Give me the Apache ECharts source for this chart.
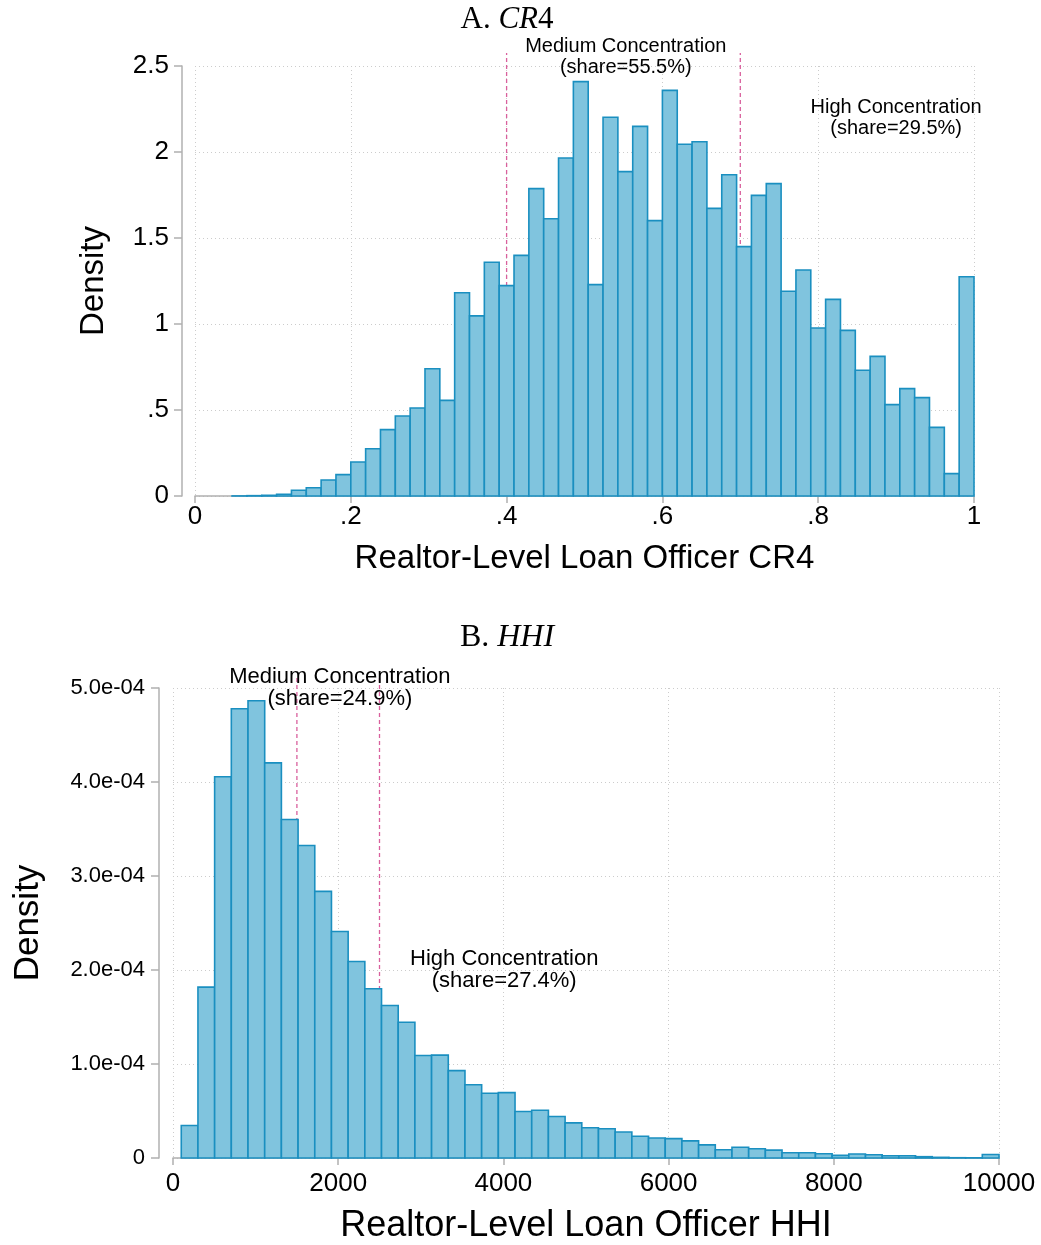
<!DOCTYPE html>
<html>
<head>
<meta charset="utf-8">
<script src="https://cdn.jsdelivr.net/npm/echarts@6/dist/echarts.min.js"></script>
<style>
  html, body { margin: 0; padding: 0; background: #fff; }
  #chart { width: 1041px; height: 1245px; }
</style>
</head>
<body>
<div id="chart"></div>
<script>
// ---- Panel A: realtor-level loan officer CR4 (50 equal-width bins, 1/21 .. 1) ----
const cr4Density = [
  0.0005, 0.002, 0.004, 0.010, 0.033, 0.048, 0.093, 0.124, 0.198, 0.275,
  0.386, 0.465, 0.512, 0.740, 0.556, 1.182, 1.047, 1.359, 1.223, 1.399,
  1.787, 1.612, 1.965, 2.409, 1.229, 2.202, 1.886, 2.149, 1.601, 2.358,
  2.045, 2.060, 1.672, 1.868, 1.450, 1.748, 1.816, 1.190, 1.314, 0.977,
  1.143, 0.963, 0.731, 0.812, 0.531, 0.624, 0.572, 0.399, 0.130, 1.275
];
const cr4Range = [1 / 21, 1];
const cr4XTicks = ['0', '.2', '.4', '.6', '.8', '1'];
const cr4YTicks = ['0', '.5', '1', '1.5', '2', '2.5'];
const cr4Cutoffs = [0.4, 0.7];
const cr4NoteText = [
  'Medium Concentration\n(share=55.5%)',
  'High Concentration\n(share=29.5%)'
];
const cr4NoteAt = [[0.553, 2.55], [0.9, 2.2]];

// ---- Panel B: realtor-level loan officer HHI (49 equal-width bins, 100 .. 10000) ----
const hhiDensity = [
  3.46e-5, 1.818e-4, 4.056e-4, 4.780e-4, 4.864e-4, 4.203e-4, 3.601e-4, 3.325e-4, 2.836e-4, 2.409e-4,
  2.091e-4, 1.801e-4, 1.622e-4, 1.444e-4, 1.091e-4, 1.094e-4, 9.30e-5, 7.80e-5, 6.89e-5, 6.95e-5,
  4.95e-5, 5.08e-5, 4.41e-5, 3.74e-5, 3.22e-5, 3.11e-5, 2.76e-5, 2.31e-5, 2.13e-5, 2.06e-5,
  1.82e-5, 1.40e-5, 8.7e-6, 1.15e-5, 9.8e-6, 8.4e-6, 5.6e-6, 5.6e-6, 4.5e-6, 2.8e-6,
  4.2e-6, 3.5e-6, 2.4e-6, 2.4e-6, 1.4e-6, 7e-7, 3e-7, 2e-7, 3.8e-6
];
const hhiRange = [100, 10000];
const hhiXTicks = ['0', '2000', '4000', '6000', '8000', '10000'];
const hhiYTicks = ['0', '1.0e-04', '2.0e-04', '3.0e-04', '4.0e-04', '5.0e-04'];
const hhiCutoffs = [1500, 2500];
const hhiNoteText = [
  'Medium Concentration\n(share=24.9%)',
  'High Concentration\n(share=27.4%)'
];
const hhiNoteAt = [[2020, 5.0e-4], [4010, 2.0e-4]];

// Reference lines run a little above the top of each value axis
const cr4CutoffTop = 2.575;
const hhiCutoffTop = 5.13e-4;

// ---- helpers ----
function toBins(density, range) {
  const w = (range[1] - range[0]) / density.length;
  return density.map((d, i) => [range[0] + i * w, range[0] + (i + 1) * w, d]);
}

const BAR_FILL = '#80c4de';
const BAR_EDGE = '#1a8fc0';
const AXIS_GREY = '#b0b0b0';
const GRID_GREY = '#cccccc';
const CUTOFF_PINK = '#d9609d';

function histItem(params, api) {
  const p0 = api.coord([api.value(0), api.value(2)]);
  const p1 = api.coord([api.value(1), 0]);
  return {
    type: 'rect',
    shape: { x: p0[0], y: p0[1], width: p1[0] - p0[0], height: p1[1] - p0[1] },
    style: { fill: BAR_FILL, stroke: BAR_EDGE, lineWidth: 1.6 }
  };
}

function histSeries(idx, density, range) {
  return {
    type: 'custom',
    xAxisIndex: idx, yAxisIndex: idx,
    renderItem: histItem,
    encode: { x: [0, 1], y: 2 },
    data: toBins(density, range),
    z: 3,
    silent: true
  };
}

function cutoffSeries(idx, cutoffs, top) {
  return cutoffs.map(c => ({
    type: 'line',
    xAxisIndex: idx, yAxisIndex: idx,
    data: [[c, 0], [c, top]],
    showSymbol: false,
    clip: false,
    silent: true,
    z: 1,
    lineStyle: { color: CUTOFF_PINK, width: 1.3, type: [4, 3] }
  }));
}

function noteSeries(idx, at, text, size, lh) {
  return {
    type: 'scatter',
    xAxisIndex: idx, yAxisIndex: idx,
    data: at.map((p, i) => ({ value: p, name: text[i] })),
    symbolSize: 0,
    itemStyle: { color: '#000', opacity: 1 },
    clip: false,
    silent: true,
    z: 5,
    label: {
      show: true, position: 'inside', formatter: '{b}',
      fontFamily: 'Liberation Sans', fontSize: size, lineHeight: lh,
      color: '#000', opacity: 1, align: 'center'
    }
  };
}

const dotted = { show: true, lineStyle: { color: GRID_GREY, width: 1, type: [1, 3] } };

function xAxisCfg(idx, max, interval, ticks, name, labelSize, nameSize, labelMargin, nameGap) {
  return {
    gridIndex: idx, type: 'value', min: 0, max: max, interval: interval,
    axisLine: { show: true, onZero: false, lineStyle: { color: AXIS_GREY, width: 1.5 } },
    axisTick: { show: true, length: 7, lineStyle: { color: AXIS_GREY, width: 1.5 } },
    axisLabel: {
      fontFamily: 'Liberation Sans', fontSize: labelSize, color: '#000', margin: labelMargin,
      formatter: v => ticks[Math.round(v / interval)]
    },
    splitLine: dotted,
    name: name, nameLocation: 'middle', nameGap: nameGap,
    nameTextStyle: { fontFamily: 'Liberation Sans', fontSize: nameSize, color: '#000' }
  };
}

function yAxisCfg(idx, max, interval, ticks, labelSize, nameSize, offset, labelMargin, nameGap) {
  return {
    gridIndex: idx, type: 'value', min: 0, max: max, interval: interval, offset: offset,
    axisLine: { show: true, onZero: false, lineStyle: { color: AXIS_GREY, width: 1.5 } },
    axisTick: { show: true, length: 8, lineStyle: { color: AXIS_GREY, width: 1.5 } },
    axisLabel: {
      fontFamily: 'Liberation Sans', fontSize: labelSize, color: '#000', margin: labelMargin,
      formatter: v => ticks[Math.round(v / interval)]
    },
    splitLine: dotted,
    name: 'Density', nameLocation: 'middle', nameGap: nameGap, nameRotate: 90,
    nameTextStyle: { fontFamily: 'Liberation Sans', fontSize: nameSize, color: '#000' }
  };
}

const titleRich = size => ({
  n: { fontFamily: 'Liberation Serif', fontSize: size, color: '#000' },
  i: { fontFamily: 'Liberation Serif', fontSize: size, fontStyle: 'italic', color: '#000' }
});

const chart = echarts.init(document.getElementById('chart'), null, { renderer: 'canvas' });
chart.setOption({
  backgroundColor: '#fff',
  animation: false,
  grid: [
    { left: 195, top: 66, width: 779, height: 430 },
    { left: 173, top: 688, width: 826, height: 477 }
  ],
  xAxis: [
    xAxisCfg(0, 1, 0.2, cr4XTicks, 'Realtor-Level Loan Officer CR4', 26, 33, 8, 46),
    xAxisCfg(1, 10000, 2000, hhiXTicks, 'Realtor-Level Loan Officer HHI', 26, 36, 13, 50)
  ],
  yAxis: [
    yAxisCfg(0, 2.5, 0.5, cr4YTicks, 26, 33, 13, 13, 72),
    yAxisCfg(1, 5e-4, 1e-4, hhiYTicks, 22, 35, 14, 14, 113)
  ],
  graphic: [
    {
      type: 'text', x: 507, y: 20,
      style: { text: '{n|A. }{i|CR}{n|4}', rich: titleRich(31), align: 'center', verticalAlign: 'middle' }
    },
    {
      type: 'text', x: 507, y: 638,
      style: { text: '{n|B. }{i|HHI}', rich: titleRich(32), align: 'center', verticalAlign: 'middle' }
    }
  ],
  series: [
    ...cutoffSeries(0, cr4Cutoffs, cr4CutoffTop),
    histSeries(0, cr4Density, cr4Range),
    noteSeries(0, cr4NoteAt, cr4NoteText, 20, 21),
    ...cutoffSeries(1, hhiCutoffs, hhiCutoffTop),
    histSeries(1, hhiDensity, hhiRange),
    noteSeries(1, hhiNoteAt, hhiNoteText, 22, 22)
  ]
});
</script>
</body>
</html>
